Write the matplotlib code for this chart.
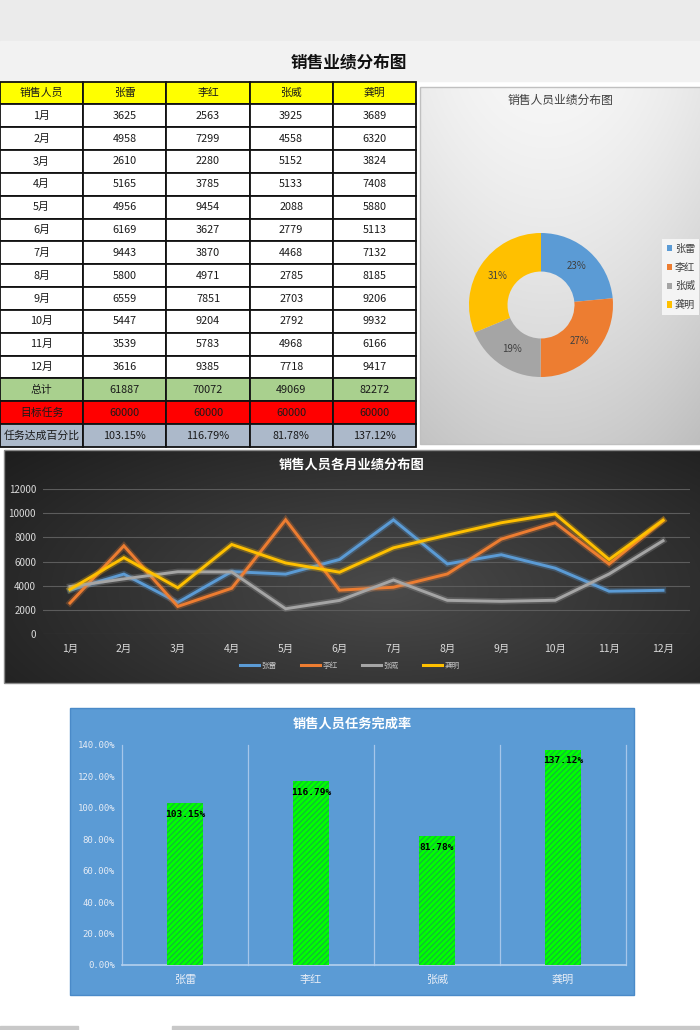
import matplotlib
matplotlib.use('Agg')
import matplotlib.pyplot as plt
import numpy as np
from matplotlib.patches import Rectangle
from matplotlib.lines import Line2D
import matplotlib.patheffects as pe
from matplotlib.ticker import FuncFormatter

plt.rcParams['font.family'] = ['Noto Sans CJK SC', 'DejaVu Sans']
plt.rcParams['hatch.linewidth'] = 0.9

# ---------------- data ----------------
people = ['张雷', '李红', '张威', '龚明']
months = ['1月', '2月', '3月', '4月', '5月', '6月', '7月', '8月', '9月', '10月', '11月', '12月']
zhang_lei = [3625, 4958, 2610, 5165, 4956, 6169, 9443, 5800, 6559, 5447, 3539, 3616]
li_hong = [2563, 7299, 2280, 3785, 9454, 3627, 3870, 4971, 7851, 9204, 5783, 9385]
zhang_wei = [3925, 4558, 5152, 5133, 2088, 2779, 4468, 2785, 2703, 2792, 4968, 7718]
gong_ming = [3689, 6320, 3824, 7408, 5880, 5113, 7132, 8185, 9206, 9932, 6166, 9417]
totals = [61887, 70072, 49069, 82272]
targets = [60000, 60000, 60000, 60000]
rates = [103.15, 116.79, 81.78, 137.12]          # percent
donut_labels = ['23%', '27%', '19%', '31%']
y_ticks_line = [0, 2000, 4000, 6000, 8000, 10000, 12000]
y_ticks_bar = [0, 0.2, 0.4, 0.6, 0.8, 1.0, 1.2, 1.4]
colors = ['#5b9bd5', '#ed7d31', '#a5a5a5', '#ffc000']
series = [zhang_lei, li_hong, zhang_wei, gong_ming]

W, H = 700, 1030
fig = plt.figure(figsize=(7, 10.3), dpi=100)


def fb(x0, y0, x1, y1):
    return [x0 / W, 1 - y1 / H, (x1 - x0) / W, (y1 - y0) / H]


# ---------------- background canvas ----------------
bg = fig.add_axes([0, 0, 1, 1])
bg.axis('off')
bg.add_patch(Rectangle((0, 0), W, 41, color='#ebebeb', zorder=0))
bg.add_patch(Rectangle((0, 41), W, 40, color='#f2f2f2', zorder=0))
bg.text(349, 62, '销售业绩分布图', ha='center', va='center', fontsize=12,
        fontweight='bold', color='#111111')

# donut panel gradient
yy, xx = np.mgrid[0:1:200j, 0:1:200j]
g = 0.965 - 0.16 * yy ** 1.3 - 0.05 * ((xx - 0.45) * 2) ** 2
g = np.clip(g, 0, 1)
bg.imshow(np.dstack([g, g, g]), extent=(420, 702, 444, 87), aspect='auto', zorder=1)
bg.add_patch(Rectangle((420, 87), 282, 357, fill=False, ec='#c0c0c0', lw=1, zorder=2))
bg.text(560, 100, '销售人员业绩分布图', ha='center', va='center', fontsize=8.5, color='#404040', zorder=3)

# line chart panel gradient
yy, xx = np.mgrid[0:1:200j, 0:1:400j]
d = np.sqrt(((xx - 0.55) / 0.7) ** 2 + ((yy - 0.6) / 0.9) ** 2)
c = np.clip(0.29 - 0.17 * d, 0.1, 0.3)
bg.imshow(np.dstack([c, c, c]), extent=(4, 702, 683, 450), aspect='auto', zorder=1)
bg.add_patch(Rectangle((4, 450), 698, 233, fill=False, ec='#8a8a8a', lw=1, zorder=2))

# bar chart panel
bg.add_patch(Rectangle((70, 708), 564, 287, fc='#5b9bd5', ec='#4a8ac8', lw=1, zorder=1))

# bottom strip
bg.add_patch(Rectangle((0, 1026), 78, 4, color='#c8c8c8', zorder=1))
bg.add_patch(Rectangle((172, 1026), 528, 4, color='#c8c8c8', zorder=1))

bg.set_xlim(0, W)
bg.set_ylim(H, 0)

# ---------------- table ----------------
header = ['销售人员'] + people
cell_text = [header]
for i, m in enumerate(months):
    cell_text.append([m] + [str(s[i]) for s in series])
cell_text.append(['总计'] + [str(t) for t in totals])
cell_text.append(['目标任务'] + [str(t) for t in targets])
cell_text.append(['任务达成百分比'] + [f'{r:.2f}%' for r in rates])

ax_t = fig.add_axes(fb(0, 81.5, 416, 447))
ax_t.axis('off')
tbl = ax_t.table(cellText=cell_text, cellLoc='center', bbox=[0, 0, 1, 1])
tbl.auto_set_font_size(False)
tbl.set_fontsize(7.8)
row_colors = {0: '#ffff00', 13: '#a9d08e', 14: '#ff0000', 15: '#acb9ca'}
for (r, cc), cell in tbl.get_celld().items():
    cell.set_edgecolor('#111111')
    cell.set_linewidth(1.3)
    cell.set_facecolor(row_colors.get(r, 'white'))
    cell.get_text().set_color('#1a1a1a')

# ---------------- donut ----------------
R = 72
ax_d = fig.add_axes(fb(541 - R, 305 - R, 541 + R, 305 + R))
ax_d.set_facecolor('none')
lab_iter = iter(donut_labels)
wedges, _, autotexts = ax_d.pie(totals, colors=colors, startangle=90, counterclock=False,
                                radius=1, wedgeprops=dict(width=0.535, linewidth=0),
                                autopct=lambda p: next(lab_iter), pctdistance=0.73,
                                textprops=dict(fontsize=7, color='#404040'))
ax_d.set_xlim(-1, 1)
ax_d.set_ylim(-1, 1)
leg_d = fig.legend(wedges, people, loc='center left', bbox_to_anchor=(662 / W, 1 - 277 / H),
                   fontsize=7.3, frameon=True, facecolor='#f4f4f4', edgecolor='none',
                   framealpha=1, handlelength=0.5, handleheight=0.55, handletextpad=0.3,
                   labelspacing=0.85, borderpad=0.45, borderaxespad=0, fancybox=False,
                   labelcolor='#404040')

# ---------------- line chart ----------------
ax_l = fig.add_axes(fb(43, 489, 690, 634))
ax_l.set_facecolor('none')
x = np.arange(len(months))
for s, col, name in zip(series, colors, people):
    ax_l.plot(x, s, color=col, lw=2.1, solid_joinstyle='miter', label=name,
              path_effects=[pe.Stroke(linewidth=4.5, foreground=col, alpha=0.28), pe.Normal()])
ax_l.set_xlim(-0.5, 11.5)
ax_l.set_ylim(0, 12000)
ax_l.set_yticks(y_ticks_line)
ax_l.set_xticks(x)
ax_l.set_xticklabels(months)
ax_l.grid(axis='y', color='#5c5c5c', lw=0.8)
ax_l.set_axisbelow(True)
for sp in ax_l.spines.values():
    sp.set_visible(False)
ax_l.tick_params(axis='both', length=0, colors='#d9d9d9', labelsize=7)
ax_l.tick_params(axis='x', pad=7, labelsize=7.5)
ax_l.tick_params(axis='y', pad=5)
fig.text(352 / W, 1 - 465 / H, '销售人员各月业绩分布图', ha='center', va='center',
         fontsize=9.5, fontweight='bold', color='white')
handles = [Line2D([], [], color=col, lw=2.2) for col in colors]
fig.legend(handles, people, loc='center', bbox_to_anchor=(350 / W, 1 - 666 / H), ncol=4,
           frameon=False, fontsize=5.5, labelcolor='#bfbfbf', handlelength=2.5,
           columnspacing=3.2, handletextpad=0.3)

# ---------------- bar chart ----------------
ax_b = fig.add_axes(fb(122, 745, 626, 965))
ax_b.set_facecolor('none')
xb = np.arange(len(people))
vals = [r / 100 for r in rates]
ax_b.bar(xb, vals, width=0.28, color='#00ff00', edgecolor='#12b83a', hatch='//////', lw=0, zorder=3)
for i, v in enumerate(vals):
    ax_b.annotate(f'{rates[i]:.2f}%', (xb[i], v), xytext=(0, -8), textcoords='offset points',
                  ha='center', va='center', fontsize=6.8, fontweight='bold',
                  family='DejaVu Sans Mono', color='black', zorder=4)
ax_b.set_xlim(-0.5, 3.5)
ax_b.set_ylim(0, 1.4)
ax_b.set_yticks(y_ticks_bar)
ax_b.yaxis.set_major_formatter(FuncFormatter(lambda v, p: f'{v * 100:.2f}%'))
for lab in ax_b.get_yticklabels():
    lab.set_family('DejaVu Sans Mono')
ax_b.set_xticks(xb)
ax_b.set_xticklabels(people)
for b in [-0.5, 0.5, 1.5, 2.5, 3.5]:
    ax_b.axvline(b, color='#a6c6ea', lw=0.9, clip_on=False, zorder=1)
for sp in ['top', 'left', 'right']:
    ax_b.spines[sp].set_visible(False)
ax_b.spines['bottom'].set_color('#b4d0ee')
ax_b.spines['bottom'].set_linewidth(1.2)
ax_b.tick_params(axis='both', length=0, colors='#e6ecf5')
ax_b.tick_params(axis='y', labelsize=6.5, pad=5)
ax_b.tick_params(axis='x', labelsize=8, pad=7)
fig.text(352 / W, 1 - 724 / H, '销售人员任务完成率', ha='center', va='center',
         fontsize=9.5, fontweight='bold', color='white')

fig.savefig('out.png', dpi=100)
